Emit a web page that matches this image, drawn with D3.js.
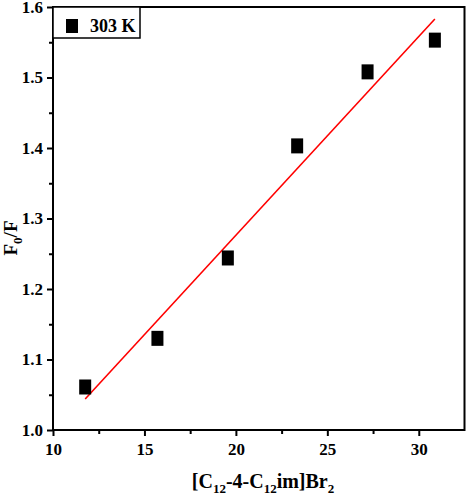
<!DOCTYPE html>
<html>
<head>
<meta charset="utf-8">
<script src="https://cdn.jsdelivr.net/npm/d3@7"></script>
<style>
    body { margin: 0; background: #fff; }
    text { font-family: "Liberation Serif", "Times New Roman", serif; font-weight: bold; fill: #000; }
</style>
</head>
<body>
<script>
// data
var concValues = [11.76, 15.71, 19.56, 23.35, 27.2, 30.88],
    ratioValues = [1.061, 1.130, 1.244, 1.403, 1.508, 1.553],
    fitX = [11.76, 30.88],
    fitY = [1.044, 1.583],
    xTicks = [10, 15, 20, 25, 30],
    xMinor = [12.5, 17.5, 22.5, 27.5],
    yTicks = [1.0, 1.1, 1.2, 1.3, 1.4, 1.5, 1.6],
    yMinor = [1.05, 1.15, 1.25, 1.35, 1.45, 1.55],
    legendLabel = "303 K";

var width = 467,
    height = 500,
    plotLeft = 53,
    plotRight = 464.5,
    plotTop = 7,
    plotBottom = 430;

var svg = d3.select("body").append("svg")
    .attr("width", width)
    .attr("height", height);

var x = d3.scaleLinear().domain([10, 32.5]).range([plotLeft, plotRight]),
    y = d3.scaleLinear().domain([1.0, 1.6]).range([plotBottom, plotTop]);

// frame
svg.append("rect")
    .attr("x", plotLeft)
    .attr("y", plotTop)
    .attr("width", plotRight - plotLeft)
    .attr("height", plotBottom - plotTop)
    .attr("fill", "none")
    .attr("stroke", "#000")
    .attr("stroke-width", 2);

// bottom axis
var xAxis = svg.append("g").attr("transform", "translate(0," + plotBottom + ")");
xAxis.call(d3.axisBottom(x).tickValues(xTicks).tickSize(6).tickPadding(7).tickFormat(d3.format("d")));
xAxis.append("g").call(d3.axisBottom(x).tickValues(xMinor).tickSize(4).tickFormat(""));
xAxis.selectAll(".domain").remove();
xAxis.selectAll("line").attr("stroke-width", 2);
xAxis.selectAll("text").style("font-size", "17px").attr("font-family", null);

// left axis
var yAxis = svg.append("g").attr("transform", "translate(" + plotLeft + ",0)");
yAxis.call(d3.axisLeft(y).tickValues(yTicks).tickSize(6).tickPadding(4).tickFormat(d3.format(".1f")));
yAxis.append("g").call(d3.axisLeft(y).tickValues(yMinor).tickSize(4).tickFormat(""));
yAxis.selectAll(".domain").remove();
yAxis.selectAll("line").attr("stroke-width", 2);
yAxis.selectAll("text").style("font-size", "17px").attr("font-family", null);

// fit line
svg.append("line")
    .attr("x1", x(fitX[0]))
    .attr("y1", y(fitY[0]))
    .attr("x2", x(fitX[1]))
    .attr("y2", y(fitY[1]))
    .attr("stroke", "#f00")
    .attr("stroke-width", 1.6);

// markers
svg.selectAll("rect.pt")
    .data(concValues)
    .enter()
    .append("rect")
    .attr("class", "pt")
    .attr("x", function (d) { return x(d) - 6; })
    .attr("y", function (d, i) { return y(ratioValues[i]) - 7.5; })
    .attr("width", 12)
    .attr("height", 15)
    .attr("fill", "#000");

// legend
svg.append("rect")
    .attr("x", plotLeft)
    .attr("y", plotTop)
    .attr("width", 87)
    .attr("height", 31)
    .attr("fill", "#fff")
    .attr("stroke", "#000")
    .attr("stroke-width", 1.5);
svg.append("rect")
    .attr("x", 66)
    .attr("y", 19)
    .attr("width", 12)
    .attr("height", 14)
    .attr("fill", "#000");
svg.append("text")
    .attr("x", 90)
    .attr("y", 32)
    .style("font-size", "18px")
    .text(legendLabel);

// x title
var xt = svg.append("text")
    .attr("x", 263)
    .attr("y", 488)
    .attr("text-anchor", "middle")
    .style("font-size", "20px");
xt.append("tspan").text("[C");
xt.append("tspan").attr("dy", 5).style("font-size", "13px").text("12");
xt.append("tspan").attr("dy", -5).text("-4-C");
xt.append("tspan").attr("dy", 5).style("font-size", "13px").text("12");
xt.append("tspan").attr("dy", -5).text("im]Br");
xt.append("tspan").attr("dy", 5).style("font-size", "13px").text("2");

// y title
var yt = svg.append("text")
    .attr("transform", "translate(17,238) rotate(-90)")
    .attr("text-anchor", "middle")
    .style("font-size", "19px");
yt.append("tspan").text("F");
yt.append("tspan").attr("dy", 5).style("font-size", "13px").text("0");
yt.append("tspan").attr("dy", -5).text("/F");
</script>
</body>
</html>
